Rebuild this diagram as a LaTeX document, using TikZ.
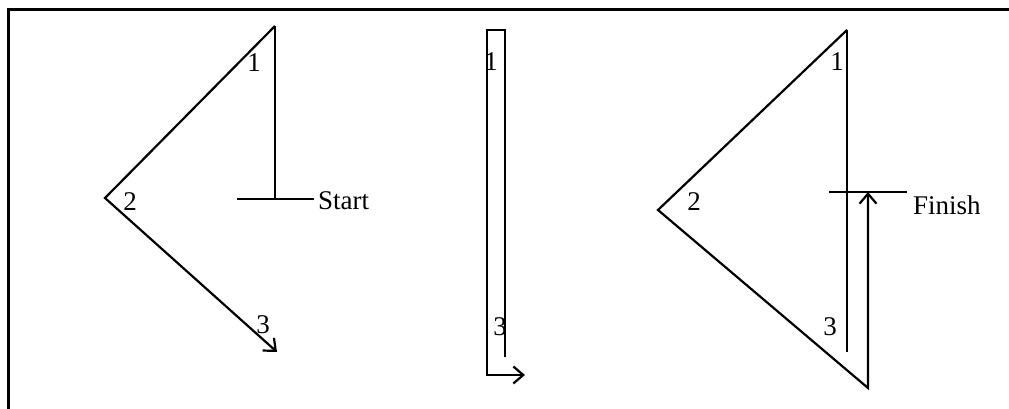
\documentclass[tikz,border=0pt]{standalone}
\usepackage{fontspec}
\setmainfont{Liberation Serif}
\usetikzlibrary{arrows.meta}

\begin{document}
\begin{tikzpicture}[x=1pt,y=-1pt,
    walk/.style={line width=2.2pt},
    walkend/.style={walk,-{Straight Barb[length=10pt,width=17pt,line width=2.2pt]}},
    tag/.style={font=\fontsize{27}{31}\selectfont,inner sep=0pt}]
    \useasboundingbox (0,0) rectangle (1009,409);
    % Frame
    \draw[line width=3pt] (8,409) -- (8,10) -- (1009,10);
    % First walk
    \coordinate (a1) at (275,26);
    \coordinate (a2) at (105,198);
    \coordinate (a3) at (277,352);
    \coordinate (abar) at (237,199);
    \coordinate (astart) at (314,199);
    \draw[walk] (abar) -- (astart);
    \draw[walk] (275,199) -- (a1);
    \draw[walkend] (a1) -- (a2) -- (a3);
    \node[tag,anchor=west] (start) at (318,201) {Start};
    \node[tag] (an1) at (254,63) {1};
    \node[tag] (an2) at (130,202) {2};
    \node[tag] (an3) at (263,325) {3};
    % Second walk
    \coordinate (b0) at (505,357);
    \coordinate (b1) at (505,30);
    \coordinate (b2) at (487,30);
    \coordinate (b3) at (487,375);
    \coordinate (b4) at (525,375);
    \draw[walkend] (b0) -- (b1) -- (b2) -- (b3) -- (b4);
    \node[tag] (bn1) at (491,62) {1};
    \node[tag] (bn3) at (500,327) {3};
    % Third walk
    \coordinate (c1) at (847,30);
    \coordinate (c2) at (658,210);
    \coordinate (c3) at (868,388);
    \coordinate (c4) at (868,192);
    \coordinate (cbar) at (829,192);
    \coordinate (cfinish) at (907,192);
    \draw[walk] (847,352) -- (c1);
    \draw[walk] (cbar) -- (cfinish);
    \draw[walkend] (c1) -- (c2) -- (c3) -- (c4);
    \node[tag,anchor=west] (finish) at (913,205) {Finish};
    \node[tag] (cn1) at (837,62) {1};
    \node[tag] (cn2) at (694,202) {2};
    \node[tag] (cn3) at (830,327) {3};
\end{tikzpicture}
\end{document}
